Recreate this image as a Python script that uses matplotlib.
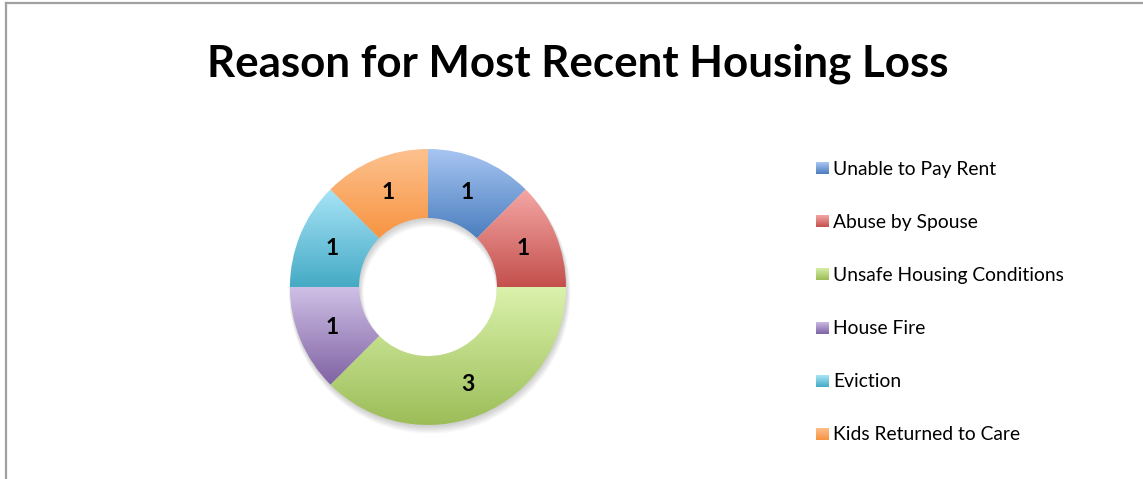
import numpy as np
import matplotlib
matplotlib.use("Agg")
import matplotlib.pyplot as plt
from matplotlib.patches import Wedge
from matplotlib.colors import LinearSegmentedColormap

plt.rcParams['font.family'] = ['Lato', 'DejaVu Sans']

title = "Reason for Most Recent Housing Loss"
reasons = ["Unable to Pay Rent", "Abuse by Spouse", "Unsafe Housing Conditions",
           "House Fire", "Eviction", "Kids Returned to Care"]
counts = [1, 1, 3, 1, 1, 1]

# light (top) -> dark (bottom) shade for each slice
top_colors = ["#a9c6f2", "#f4a7a5", "#daf2ab", "#cfc0e6", "#a8e4f7", "#fdc290"]
bottom_colors = ["#4a7ebf", "#c4504c", "#9cbd58", "#7f62a3", "#45aac5", "#f79441"]

W, H = 1143, 479
fig = plt.figure(figsize=(W / 100, H / 100), dpi=100)

# gray frame on left/top edges
fig.add_artist(plt.Line2D([6 / W, 6 / W], [0, 1 - 3 / H], color="#a0a0a0", lw=1.6))
fig.add_artist(plt.Line2D([6 / W, 1], [1 - 3 / H, 1 - 3 / H], color="#a0a0a0", lw=1.6))

fig.text(578 / W, 1 - 64 / H, title, ha="center", va="center",
         fontsize=31.6, fontweight="bold", color="black")

# donut axes: radius 1 == 138 px
cx, cy, R = 428, 287, 138
half = 160
ax = fig.add_axes([(cx - half) / W, (H - cy - half) / H, 2 * half / W, 2 * half / H])
lim = half / R
ax.set_aspect("equal")
ax.axis("off")

width = 0.5
total = sum(counts)

# soft shadow under the ring
for k in range(6):
    off = 0.012 + k * 0.006
    ax.add_patch(Wedge((off * 0.3, -off), 1.0 + k * 0.004, 0, 360, width=width + k * 0.008,
                       facecolor="black", edgecolor="none", alpha=0.03, zorder=1))

start = 90.0
for i, (n, c1, c2) in enumerate(zip(counts, top_colors, bottom_colors)):
    sweep = 360.0 * n / total
    theta1, theta2 = start - sweep, start
    wedge = Wedge((0, 0), 1.0, theta1, theta2, width=width, facecolor="none",
                  edgecolor="none", zorder=2)
    ax.add_patch(wedge)

    # vertical gradient clipped to the slice
    angs = np.radians(np.linspace(theta1, theta2, 200))
    ys = np.concatenate([np.sin(angs), (1 - width) * np.sin(angs)])
    xs = np.concatenate([np.cos(angs), (1 - width) * np.cos(angs)])
    cmap = LinearSegmentedColormap.from_list("g%d" % i, [c2, c1])
    grad = np.linspace(0, 1, 256).reshape(-1, 1)
    im = ax.imshow(grad, cmap=cmap, origin="lower", aspect="auto",
                   extent=[xs.min(), xs.max(), ys.min(), ys.max()], zorder=2)
    im.set_clip_path(wedge)

    mid = np.radians((theta1 + theta2) / 2)
    rr = 1 - width / 2
    ax.text(rr * np.cos(mid), rr * np.sin(mid) - 0.01, str(n), ha="center", va="center",
            fontsize=16.5, fontweight="bold", color="black", zorder=3)
    start = theta1

ax.set_xlim(-lim, lim)
ax.set_ylim(-lim, lim)

# legend entries
row0, step = 168, 53.2
for i, label in enumerate(reasons):
    y = row0 + i * step
    lax = fig.add_axes([816 / W, (H - y - 6) / H, 13 / W, 12 / H])
    lax.imshow(np.linspace(0, 1, 64).reshape(-1, 1),
               cmap=LinearSegmentedColormap.from_list("l%d" % i, [top_colors[i], bottom_colors[i]]),
               aspect="auto", extent=[0, 1, 0, 1])
    lax.axis("off")
    fig.text(833 / W, 1 - (y + 1) / H, label, ha="left", va="center", fontsize=13.9, color="black")

fig.savefig("out.png", dpi=100)
